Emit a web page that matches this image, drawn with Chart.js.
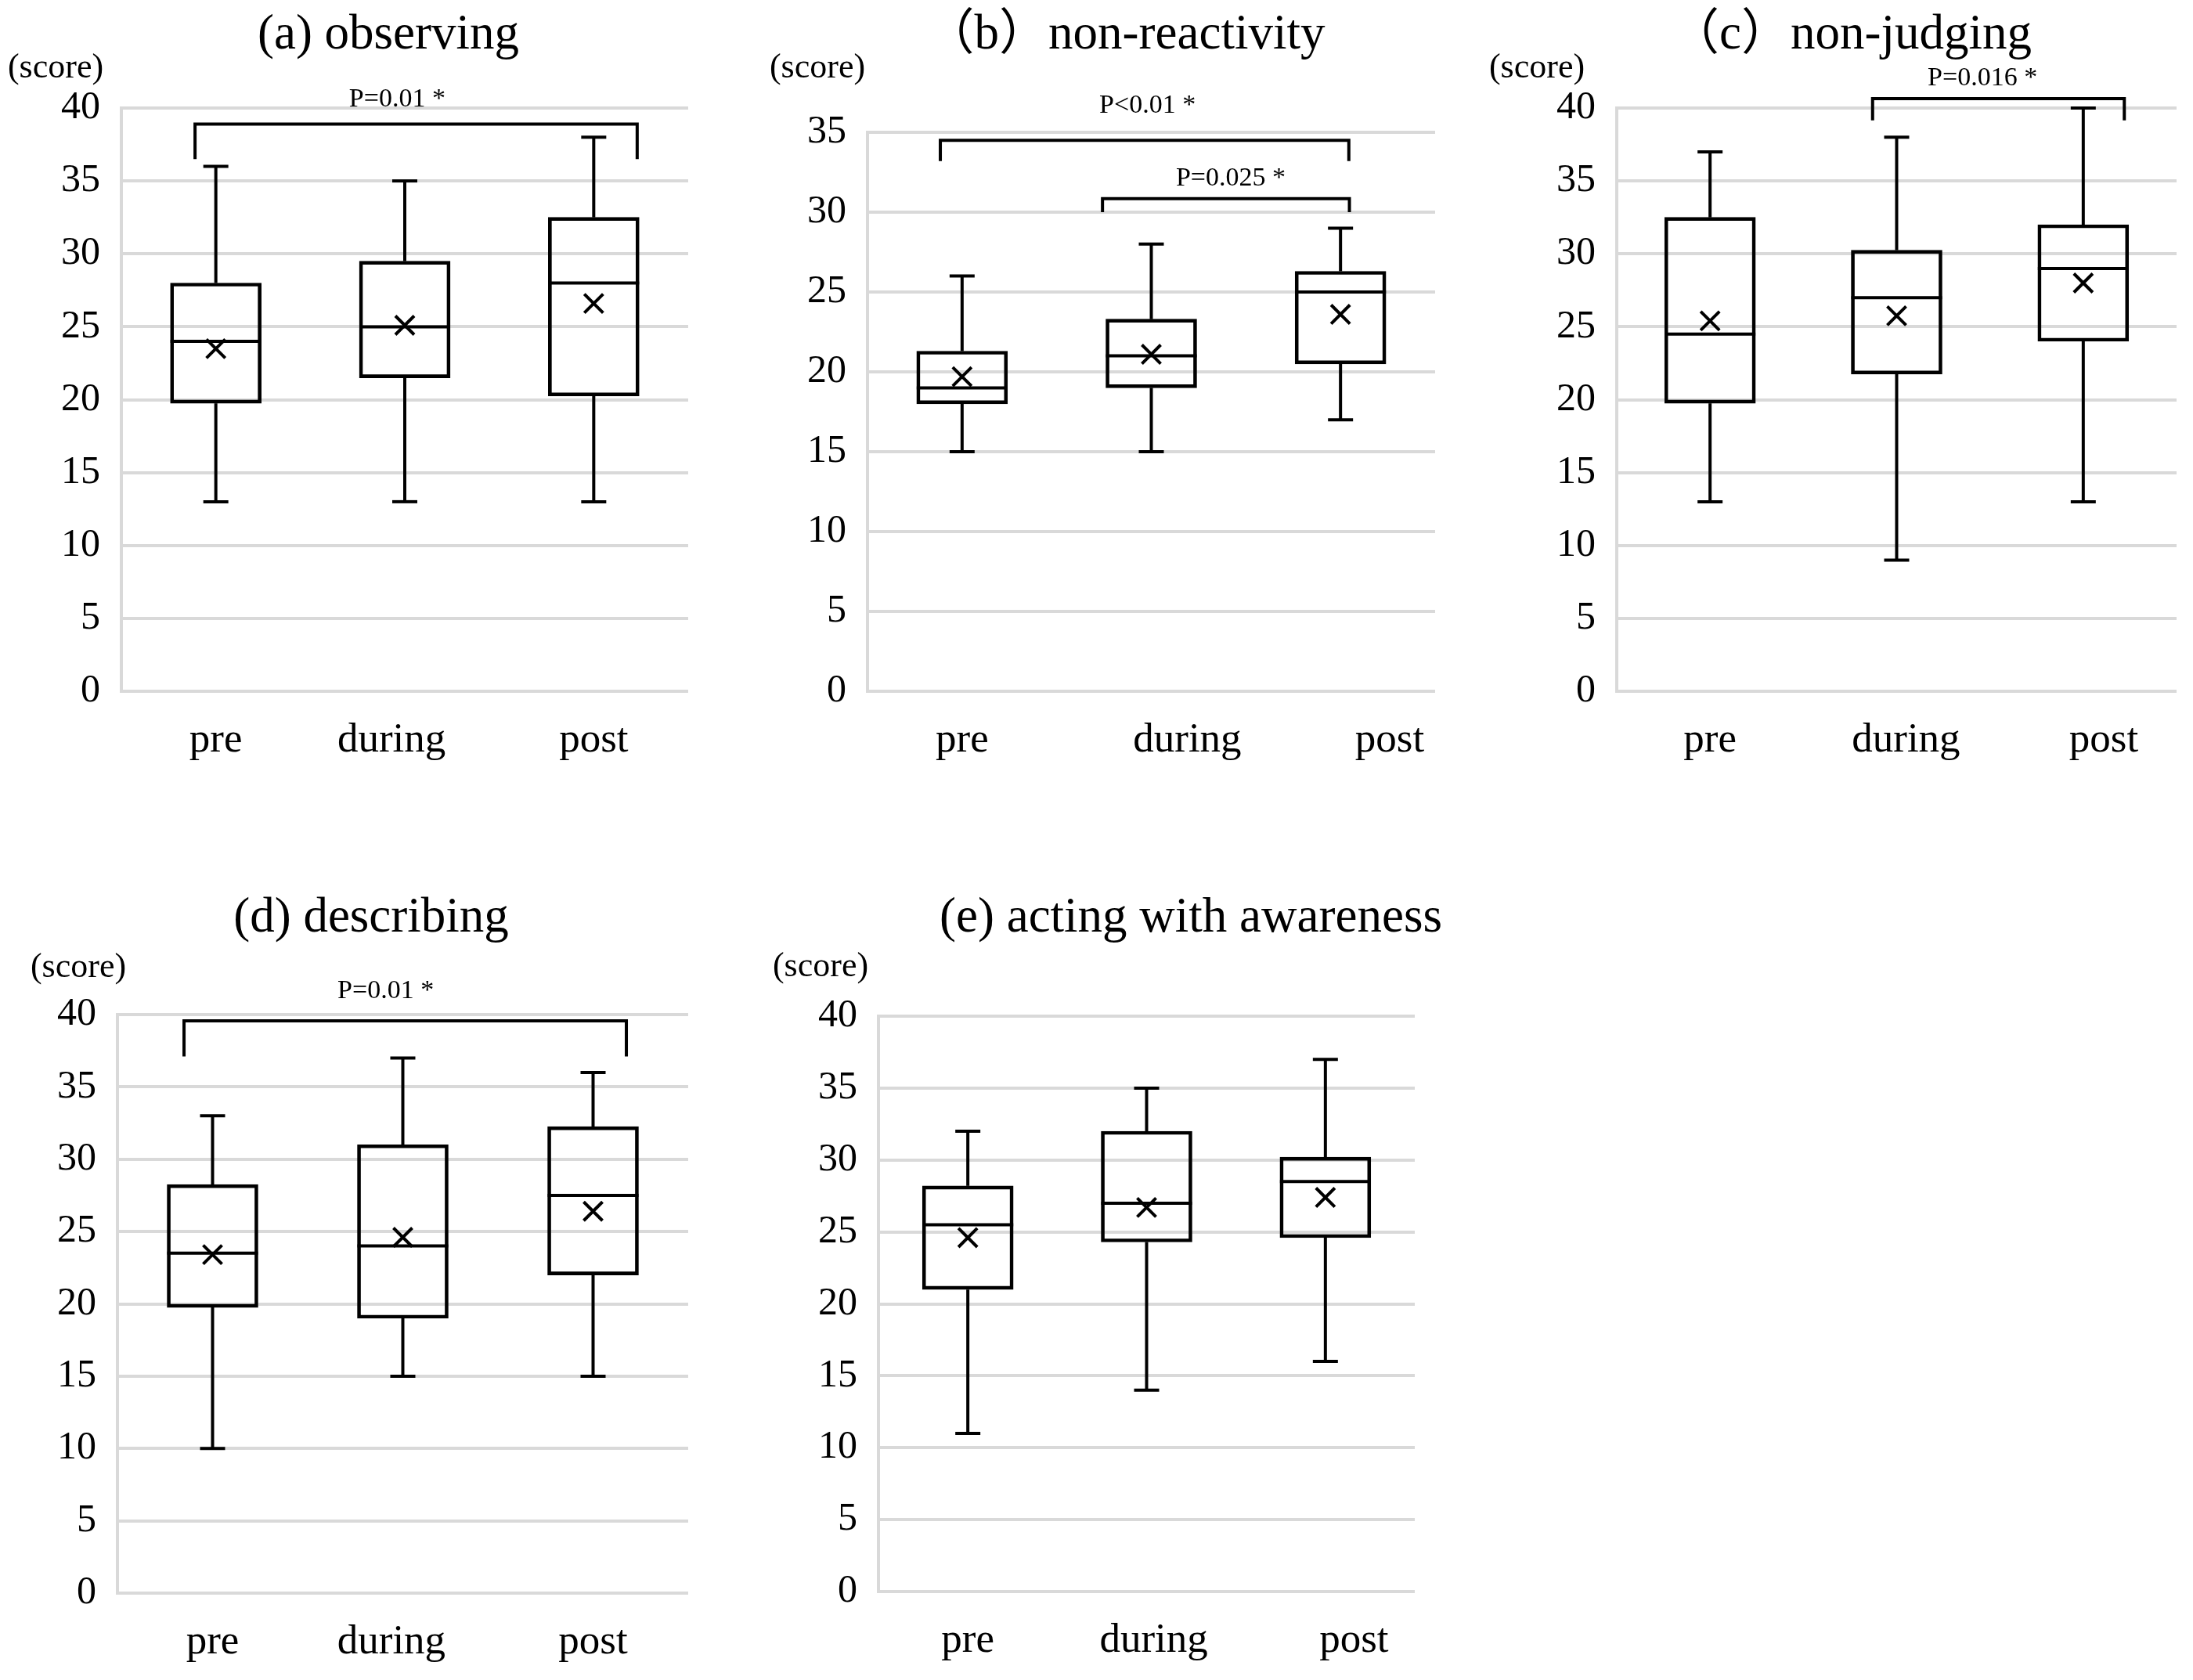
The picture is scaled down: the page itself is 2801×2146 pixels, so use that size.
<!DOCTYPE html>
<html>
<head>
<meta charset="utf-8">
<title>FFMQ facets box plots</title>
<script src="https://cdn.jsdelivr.net/npm/chart.js@4.4.1/dist/chart.umd.min.js"></script>
<style>
  html, body { margin: 0; padding: 0; background: #fff; overflow: hidden; }
  #wrap { position: relative; width: 2801px; height: 2146px; }
  #wrap canvas { position: absolute; left: 0; top: 0; }
</style>
</head>
<body>
<div id="wrap">
  <canvas id="pa" width="2801" height="2146"></canvas>
  <canvas id="pb" width="2801" height="2146"></canvas>
  <canvas id="pc" width="2801" height="2146"></canvas>
  <canvas id="pd" width="2801" height="2146"></canvas>
  <canvas id="pe" width="2801" height="2146"></canvas>
</div>
<script>
// categories
const groups = ['pre', 'during', 'post'];

// (a) observing
const aMin = [13, 13, 13];
const aQ1 = [19.75, 21.5, 20.25];
const aMed = [24, 25, 28];
const aQ3 = [28, 29.5, 32.5];
const aMax = [36, 35, 38];
const aMean = [23.5, 25.1, 26.6];

// (b) non-reactivity
const bMin = [15, 15, 17];
const bQ1 = [18, 19, 20.5];
const bMed = [19, 21, 25];
const bQ3 = [21.3, 23.3, 26.3];
const bMax = [26, 28, 29];
const bMean = [19.7, 21.1, 23.6];

// (c) non-judging
const cMin = [13, 9, 13];
const cQ1 = [19.75, 21.75, 24];
const cMed = [24.5, 27, 29];
const cQ3 = [32.5, 30.25, 32];
const cMax = [37, 38, 40];
const cMean = [25.4, 25.75, 28];

// (d) describing
const dMin = [10, 15, 15];
const dQ1 = [19.75, 19, 22];
const dMed = [23.5, 24, 27.5];
const dQ3 = [28.25, 31, 32.25];
const dMax = [33, 37, 36];
const dMean = [23.4, 24.6, 26.4];

// (e) acting with awareness
const eMin = [11, 14, 16];
const eQ1 = [21, 24.3, 24.6];
const eMed = [25.5, 27, 28.5];
const eQ3 = [28.2, 32, 30.2];
const eMax = [32, 35, 37];
const eMean = [24.6, 26.7, 27.4];

// y axis tick values
const ticks40 = [0, 5, 10, 15, 20, 25, 30, 35, 40];
const ticks35 = [0, 5, 10, 15, 20, 25, 30, 35];

const PAGE_W = 2801, PAGE_H = 2146;
const SERIF = '"Liberation Serif", "Noto Sans CJK JP", serif';

function line(ctx, x0, y0, x1, y1) {
    ctx.beginPath();
    ctx.moveTo(x0, y0);
    ctx.lineTo(x1, y1);
    ctx.stroke();
}

// whiskers, medians, brackets and all the loose text
const boxExtras = {
    id: 'boxExtras',
    afterDatasetsDraw(chart, args, p) {
        const { ctx } = chart;
        const x = chart.scales.x, y = chart.scales.y;
        const boxes = chart.getDatasetMeta(0).data;
        ctx.save();
        ctx.strokeStyle = '#000';
        ctx.lineWidth = 4;
        ctx.lineCap = 'butt';
        p.min.forEach((mn, i) => {
            const cx = x.getPixelForValue(i);
            const cap = 16;
            line(ctx, cx, y.getPixelForValue(p.q3[i]), cx, y.getPixelForValue(p.max[i]));
            line(ctx, cx - cap, y.getPixelForValue(p.max[i]), cx + cap, y.getPixelForValue(p.max[i]));
            line(ctx, cx, y.getPixelForValue(p.q1[i]), cx, y.getPixelForValue(mn));
            line(ctx, cx - cap, y.getPixelForValue(mn), cx + cap, y.getPixelForValue(mn));
            const hw = boxes[i].width / 2;
            line(ctx, cx - hw, y.getPixelForValue(p.med[i]), cx + hw, y.getPixelForValue(p.med[i]));
        });

        // significance brackets
        ctx.lineJoin = 'miter';
        (p.sig || []).forEach(s => {
            const xl = x.getPixelForValue(s.x0), xr = x.getPixelForValue(s.x1);
            const yt = y.getPixelForValue(s.y), yb = y.getPixelForValue(s.y1);
            ctx.beginPath();
            ctx.moveTo(xl, yb);
            ctx.lineTo(xl, yt);
            ctx.lineTo(xr, yt);
            ctx.lineTo(xr, yb);
            ctx.stroke();
            ctx.fillStyle = '#000';
            ctx.font = '34px ' + SERIF;
            ctx.textAlign = 'center';
            ctx.textBaseline = 'middle';
            ctx.fillText(s.text, x.getPixelForValue(s.tx), y.getPixelForValue(s.ty));
        });

        // category labels
        ctx.fillStyle = '#000';
        ctx.font = '53px ' + SERIF;
        ctx.textAlign = 'center';
        ctx.textBaseline = 'alphabetic';
        groups.forEach((g, i) => {
            ctx.fillText(g, x.getPixelForValue(i + p.shift[i]), chart.chartArea.bottom + 77);
        });

        // title and unit
        ctx.font = '63px ' + SERIF;
        ctx.fillText(p.title, p.titleX, p.titleY);
        ctx.font = '44px ' + SERIF;
        ctx.textBaseline = 'middle';
        ctx.fillText('(score)', p.scoreX, p.scoreY);
        ctx.restore();
    }
};

function makePanel(id, p) {
    const A = p.area;
    return new Chart(document.getElementById(id), {
        type: 'bar',
        data: {
            labels: groups,
            datasets: [
                {
                    type: 'bar',
                    data: p.q1.map((v, i) => [v, p.q3[i]]),
                    backgroundColor: 'rgba(0,0,0,0)',
                    borderColor: '#000',
                    borderWidth: 4,
                    borderSkipped: false,
                    barThickness: 116
                },
                {
                    type: 'line',
                    data: p.mean,
                    showLine: false,
                    pointStyle: 'crossRot',
                    pointRadius: 17,
                    pointBorderWidth: 4,
                    pointBorderColor: '#000',
                    borderColor: '#000',
                    backgroundColor: '#000'
                }
            ]
        },
        options: {
            responsive: false,
            animation: false,
            devicePixelRatio: 1,
            events: [],
            layout: { padding: { left: A.L - 120, right: PAGE_W - A.R, top: A.T, bottom: PAGE_H - A.B } },
            plugins: { legend: { display: false }, tooltip: { enabled: false }, boxExtras: p },
            scales: {
                x: { display: false, offset: true },
                y: {
                    min: 0,
                    max: p.ticks[p.ticks.length - 1],
                    afterFit(s) { s.width = 120; },
                    afterBuildTicks(s) { s.ticks = p.ticks.map(v => ({ value: v })); },
                    ticks: { padding: 27, color: '#000', font: { family: SERIF, size: 50 } },
                    grid: { color: '#d9d9d9', lineWidth: 4, drawTicks: false },
                    border: { display: true, color: '#d9d9d9', width: 4 }
                }
            }
        },
        plugins: [boxExtras]
    });
}

makePanel('pa', {
    min: aMin, q1: aQ1, med: aMed, q3: aQ3, max: aMax, mean: aMean, ticks: ticks40,
    area: { L: 155, R: 879, T: 138, B: 883 },
    title: '(a) observing', titleX: 496, titleY: 62, scoreX: 71, scoreY: 87,
    shift: [0, -0.07, 0],
    sig: [{ x0: -0.11, x1: 2.23, y: 38.9, y1: 36.5, text: 'P=0.01 *', tx: 0.96, ty: 40.6 }]
});

makePanel('pb', {
    min: bMin, q1: bQ1, med: bMed, q3: bQ3, max: bMax, mean: bMean, ticks: ticks35,
    area: { L: 1108, R: 1833, T: 169, B: 883 },
    title: '（b）non-reactivity', titleX: 1437, titleY: 62, scoreX: 1044, scoreY: 87,
    shift: [0, 0.19, 0.26],
    sig: [
        { x0: -0.115, x1: 2.044, y: 34.5, y1: 33.2, text: 'P<0.01 *', tx: 0.98, ty: 36.65 },
        { x0: 0.742, x1: 2.047, y: 30.85, y1: 30.0, text: 'P=0.025 *', tx: 1.42, ty: 32.1 }
    ]
});

makePanel('pc', {
    min: cMin, q1: cQ1, med: cMed, q3: cQ3, max: cMax, mean: cMean, ticks: ticks40,
    area: { L: 2065, R: 2790, T: 138, B: 883 },
    title: '（c）non-judging', titleX: 2364, titleY: 62, scoreX: 1963, scoreY: 87,
    shift: [0, 0.05, 0.11],
    sig: [{ x0: 0.871, x1: 2.22, y: 40.65, y1: 39.15, text: 'P=0.016 *', tx: 1.46, ty: 42.05 }]
});

makePanel('pd', {
    min: dMin, q1: dQ1, med: dMed, q3: dQ3, max: dMax, mean: dMean, ticks: ticks40,
    area: { L: 150, R: 879, T: 1296, B: 2035 },
    title: '(d) describing', titleX: 474, titleY: 1190, scoreX: 100, scoreY: 1236,
    shift: [0, -0.06, 0],
    sig: [{ x0: -0.15, x1: 2.175, y: 39.57, y1: 37.1, text: 'P=0.01 *', tx: 0.91, ty: 41.6 }]
});

makePanel('pe', {
    min: eMin, q1: eQ1, med: eMed, q3: eQ3, max: eMax, mean: eMean, ticks: ticks40,
    area: { L: 1122, R: 1807, T: 1298, B: 2033 },
    title: '(e) acting with awareness', titleX: 1521, titleY: 1190, scoreX: 1048, scoreY: 1235,
    shift: [0, 0.04, 0.16],
    sig: []
});
</script>
</body>
</html>
